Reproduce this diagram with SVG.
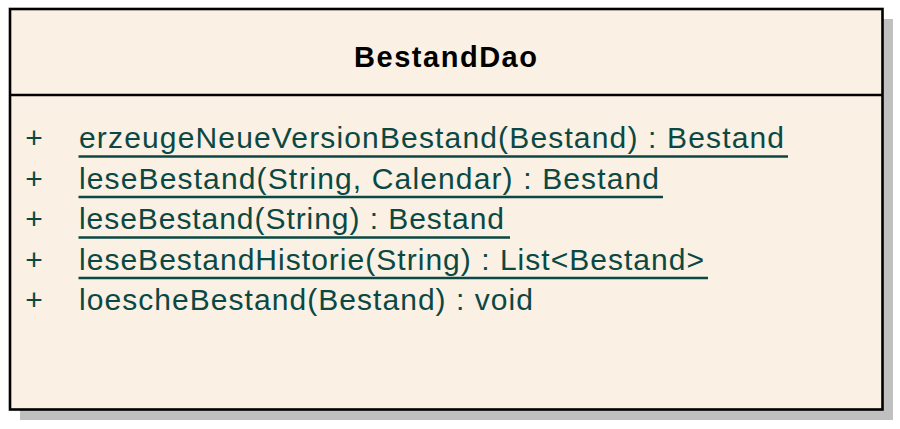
<svg xmlns="http://www.w3.org/2000/svg" width="900" height="429" viewBox="0 0 900 429">
<style>
.t{font-family:"Liberation Sans",Arial,sans-serif;font-size:30px;fill:#0b4843}
.title{font-family:"Liberation Sans",Arial,sans-serif;font-size:29px;font-weight:bold;fill:#000}
.ul{stroke:#0b4843;stroke-width:2.3}
</style>
<rect width="900" height="429" fill="#ffffff"/>
<g id="BestandDao">
<rect x="20" y="19" width="873" height="401" fill="#c0c0c0"/>
<rect x="10" y="9" width="872.5" height="400.5" fill="#faf0e3" stroke="#000" stroke-width="2.6"/>
<line x1="10" y1="95" x2="882.5" y2="95" stroke="#000" stroke-width="2.6"/>
<text class="title" x="354" y="67" textLength="183" lengthAdjust="spacing">BestandDao</text>
<g class="t">
<text x="34" y="148" text-anchor="middle">+</text>
<text x="34" y="188.5" text-anchor="middle">+</text>
<text x="34" y="229" text-anchor="middle">+</text>
<text x="34" y="269.5" text-anchor="middle">+</text>
<text x="34" y="310" text-anchor="middle">+</text>
<text x="79" y="148" textLength="705" lengthAdjust="spacing">erzeugeNeueVersionBestand(Bestand) : Bestand</text>
<text x="79" y="188.5" textLength="580" lengthAdjust="spacing">leseBestand(String, Calendar) : Bestand</text>
<text x="79" y="229" textLength="425" lengthAdjust="spacing">leseBestand(String) : Bestand</text>
<text x="79" y="269.5" textLength="625" lengthAdjust="spacing">leseBestandHistorie(String) : List&lt;Bestand&gt;</text>
<text x="79" y="310" textLength="454" lengthAdjust="spacing">loescheBestand(Bestand) : void</text>
</g>
<line class="ul" x1="78.5" y1="156.5" x2="788" y2="156.5"/>
<line class="ul" x1="78.5" y1="197" x2="663" y2="197"/>
<line class="ul" x1="78.5" y1="237.5" x2="510" y2="237.5"/>
<line class="ul" x1="78.5" y1="278" x2="708" y2="278"/>
</g>
<g id="connectors"></g>
</svg>
